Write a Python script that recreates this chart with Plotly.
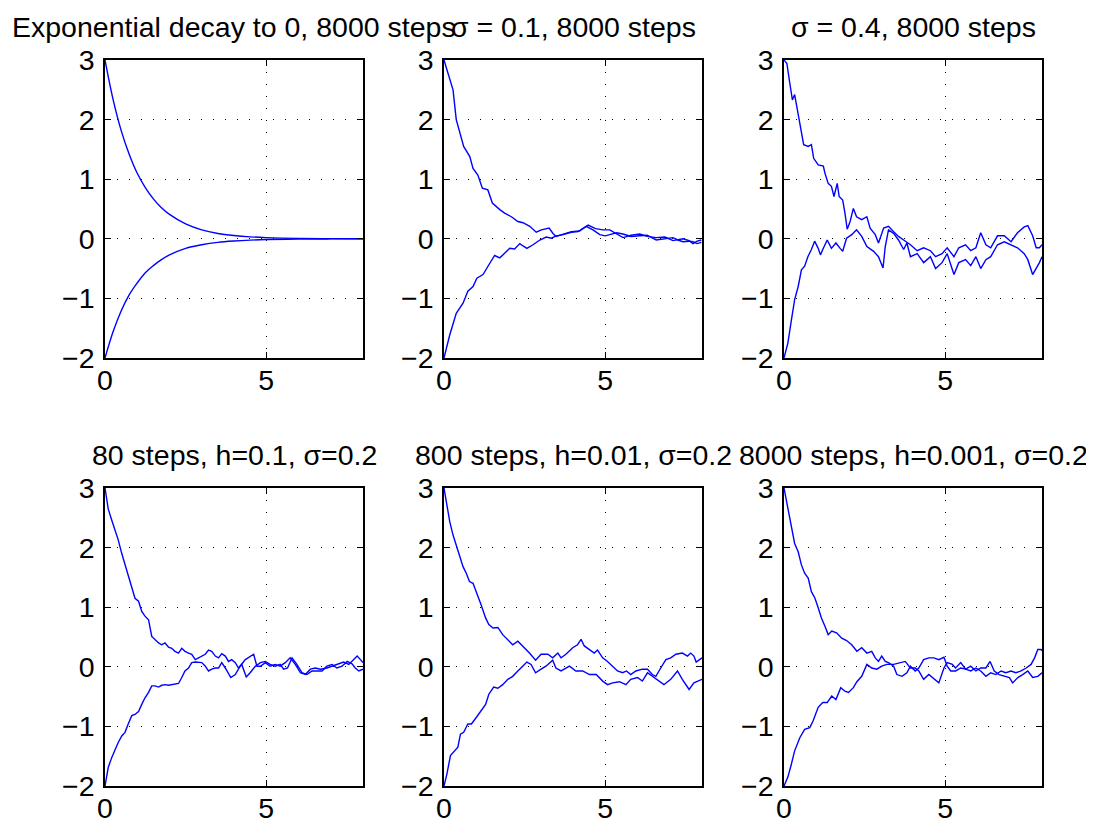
import plotly.graph_objects as go

# ---------------- data ----------------
# Panel 1: exponential decay to 0, 8000 steps
exp_t = [0, 0.25, 0.5, 0.75, 1, 1.25, 1.5, 1.75, 2, 2.5, 3, 3.5, 4, 4.5, 5, 6, 7, 8]
exp_upper = [3, 2.34, 1.82, 1.42, 1.10, 0.86, 0.67, 0.52, 0.41, 0.25, 0.15, 0.09, 0.055, 0.033, 0.02, 0.007, 0.003, 0.001]
exp_lower = [-2, -1.56, -1.21, -0.94, -0.74, -0.57, -0.45, -0.35, -0.27, -0.16, -0.10, -0.06, -0.037, -0.022, -0.013, -0.005, -0.002, -0.001]

# Panel 2: sigma = 0.1, 8000 steps
s01_up_t = [0, 0.28, 0.38, 0.61, 0.80, 0.90, 1.05, 1.19, 1.36, 1.50, 1.73, 1.88, 2.09, 2.29, 2.45, 2.66, 2.86,
            3.02, 3.26, 3.38, 3.48, 3.70, 3.95, 4.2, 4.47, 4.7, 4.93, 5.14, 5.35, 5.55, 5.8, 6.07, 6.3, 6.58,
            6.85, 7.1, 7.41, 7.6, 7.72, 7.85, 7.98]
s01_up = [3, 2.5, 2.0, 1.55, 1.38, 1.18, 1.07, 0.85, 0.82, 0.60, 0.49, 0.43, 0.37, 0.29, 0.27, 0.21, 0.11,
          0.15, 0.18, 0.09, 0.04, 0.08, 0.12, 0.13, 0.23, 0.17, 0.15, 0.15, 0.09, 0.02, 0.06, 0.08, 0.04, 0.02,
          0.03, -0.03, 0.0, -0.03, -0.08, -0.04, -0.02]
s01_lo_t = [0, 0.18, 0.38, 0.59, 0.74, 0.90, 1.02, 1.21, 1.42, 1.57, 1.73, 1.88, 2.04, 2.19, 2.35, 2.45, 2.57,
            2.76, 2.97, 3.17, 3.33, 3.48, 3.69, 3.95, 4.16, 4.41, 4.62, 4.83, 5.0, 5.14, 5.35, 5.55, 5.8, 6.07,
            6.3, 6.58, 6.85, 7.1, 7.25, 7.41, 7.6, 7.72, 7.85, 7.98]
s01_lo = [-2, -1.61, -1.25, -1.08, -0.88, -0.80, -0.66, -0.60, -0.41, -0.28, -0.32, -0.24, -0.16, -0.17,
          -0.08, -0.12, -0.16, -0.10, -0.02, 0.03, 0.01, 0.05, 0.07, 0.11, 0.12, 0.21, 0.15, 0.07, 0.05,
          0.07, 0.10, 0.08, 0.04, 0.05, 0.06, -0.02, 0.0, 0.02, -0.02, -0.05, -0.04, -0.05, -0.08, -0.06]

# Panel 3: sigma = 0.4, 8000 steps
s04_up_t = [0, 0.09, 0.18, 0.26, 0.33, 0.38, 0.47, 0.54, 0.61, 0.75, 0.85, 0.92, 1.06, 1.22, 1.27, 1.37,
            1.47, 1.55, 1.65, 1.71, 1.82, 1.89, 1.96, 2.05, 2.15, 2.25, 2.41, 2.57, 2.67, 2.83, 2.93, 3.09,
            3.24, 3.40, 3.55, 3.71, 3.92, 4.13, 4.33, 4.54, 4.70, 4.90, 5.06, 5.27, 5.42, 5.63, 5.79, 5.95,
            6.10, 6.26, 6.41, 6.62, 6.83, 7.04, 7.24, 7.45, 7.56, 7.71, 7.82, 7.92, 8.0]
s04_up = [3, 2.94, 2.61, 2.33, 2.42, 2.27, 1.99, 1.83, 1.58, 1.55, 1.58, 1.35, 1.24, 1.22, 1.10, 0.93,
          0.88, 0.71, 0.93, 0.71, 0.65, 0.43, 0.16, 0.29, 0.51, 0.37, 0.32, 0.37, 0.18, 0.07, -0.07, 0.18,
          0.21, 0.12, 0.04, -0.02, -0.10, -0.20, -0.15, -0.20, -0.30, -0.25, -0.15, -0.30, -0.15, -0.10,
          -0.20, -0.15, 0.10, -0.10, -0.15, 0.05, 0.05, -0.05, 0.10, 0.20, 0.22, 0.05, -0.15, -0.15, -0.10]
s04_lo_t = [0, 0.12, 0.23, 0.33, 0.44, 0.54, 0.64, 0.74, 0.85, 0.95, 1.06, 1.13, 1.22, 1.34, 1.47, 1.61,
            1.74, 1.82, 1.94, 2.10, 2.25, 2.41, 2.57, 2.78, 2.93, 3.07, 3.14, 3.24, 3.40, 3.55, 3.71, 3.81,
            3.92, 4.13, 4.33, 4.54, 4.70, 4.90, 5.06, 5.27, 5.42, 5.63, 5.79, 5.95, 6.10, 6.26, 6.41, 6.62,
            6.83, 7.04, 7.24, 7.45, 7.56, 7.71, 7.82, 7.92, 8.0]
s04_lo = [-2, -1.75, -1.36, -1.02, -0.80, -0.52, -0.46, -0.30, -0.18, -0.04, -0.16, -0.27, -0.16, -0.02,
          -0.16, -0.07, -0.16, -0.21, 0.01, 0.07, 0.15, 0.04, -0.13, -0.21, -0.30, -0.49, -0.13, 0.15, 0.09,
          -0.02, -0.18, -0.07, -0.30, -0.25, -0.40, -0.30, -0.50, -0.40, -0.25, -0.60, -0.40, -0.35, -0.45,
          -0.30, -0.50, -0.35, -0.30, -0.10, -0.05, -0.10, -0.15, -0.25, -0.35, -0.60, -0.50, -0.40, -0.30]

# Panel 4: 80 steps, h=0.1, sigma=0.2
h1_up_t = [0, 0.10, 0.21, 0.31, 0.41, 0.52, 0.62, 0.72, 0.83, 0.93, 1.04, 1.14, 1.24, 1.35, 1.45, 1.55,
           1.66, 1.76, 1.86, 1.97, 2.07, 2.17, 2.28, 2.38, 2.48, 2.59, 2.69, 2.80, 2.90, 3.00, 3.11, 3.21,
           3.31, 3.42, 3.52, 3.62, 3.73, 3.83, 3.93, 4.04, 4.14, 4.24, 4.38, 4.50, 4.66, 4.82, 4.97, 5.12,
           5.28, 5.43, 5.54, 5.66, 5.80, 5.95, 6.11, 6.26, 6.42, 6.57, 6.73, 6.88, 7.04, 7.19, 7.35, 7.51,
           7.66, 7.76, 7.87, 8.0]
h1_up = [3, 2.65, 2.46, 2.29, 2.13, 1.90, 1.71, 1.54, 1.32, 1.15, 1.10, 0.93, 0.85, 0.79, 0.51, 0.46,
         0.40, 0.37, 0.40, 0.33, 0.31, 0.26, 0.23, 0.31, 0.26, 0.23, 0.21, 0.12, 0.15, 0.18, 0.21, 0.28,
         0.26, 0.18, 0.15, 0.22, 0.18, 0.09, 0.12, 0.07, -0.02, 0.04, -0.17, -0.10, 0.01, 0.07, 0.09, 0.04,
         0.01, 0.04, -0.04, -0.02, 0.15, 0.04, -0.10, -0.13, -0.07, -0.07, -0.07, 0.01, 0.04, -0.02, 0.01,
         0.09, 0.05, -0.02, -0.07, -0.04]
h1_lo_t = [0, 0.10, 0.21, 0.31, 0.41, 0.52, 0.62, 0.72, 0.83, 0.93, 1.04, 1.14, 1.24, 1.35, 1.45, 1.55,
           1.66, 1.76, 1.86, 1.97, 2.07, 2.17, 2.28, 2.38, 2.48, 2.59, 2.69, 2.80, 2.90, 3.00, 3.11, 3.21,
           3.31, 3.42, 3.52, 3.62, 3.73, 3.83, 3.90, 4.04, 4.19, 4.35, 4.50, 4.61, 4.71, 4.82, 4.97, 5.12,
           5.28, 5.43, 5.59, 5.74, 5.90, 6.06, 6.21, 6.37, 6.52, 6.68, 6.88, 7.04, 7.19, 7.40, 7.56, 7.71,
           7.82, 7.92, 8.0]
h1_lo = [-2, -1.69, -1.52, -1.38, -1.27, -1.16, -1.10, -0.96, -0.82, -0.80, -0.75, -0.63, -0.52, -0.43,
         -0.32, -0.32, -0.34, -0.31, -0.30, -0.31, -0.30, -0.30, -0.28, -0.18, -0.07, -0.02, 0.07, 0.08,
         0.07, 0.07, 0.01, -0.07, -0.04, -0.02, -0.02, 0.07, -0.02, -0.13, -0.18, -0.13, 0.01, 0.12, 0.18,
         0.21, 0.01, 0.01, 0.07, 0.01, 0.04, 0.01, 0.07, 0.15, 0.04, -0.10, -0.13, -0.04, -0.02, -0.04,
         -0.02, 0.01, 0.04, 0.08, 0.04, 0.12, 0.18, 0.12, 0.07]

# Panel 5: 800 steps, h=0.01, sigma=0.2
h01_up_t = [0, 0.09, 0.18, 0.28, 0.38, 0.48, 0.59, 0.69, 0.79, 0.90, 1.02, 1.15, 1.29, 1.39, 1.52, 1.67,
            1.82, 1.98, 2.13, 2.29, 2.44, 2.65, 2.84, 3.01, 3.22, 3.37, 3.53, 3.63, 3.78, 3.99, 4.14, 4.25,
            4.35, 4.51, 4.66, 4.76, 4.92, 5.07, 5.23, 5.38, 5.54, 5.66, 5.79, 5.95, 6.15, 6.31, 6.46, 6.57,
            6.72, 6.88, 7.03, 7.19, 7.39, 7.55, 7.65, 7.75, 7.82, 7.91, 8.0]
h01_up = [3, 2.71, 2.43, 2.21, 2.04, 1.88, 1.68, 1.57, 1.43, 1.40, 1.24, 1.04, 0.82, 0.71, 0.65, 0.66,
          0.54, 0.46, 0.37, 0.43, 0.35, 0.23, 0.11, 0.21, 0.21, 0.15, 0.23, 0.15, 0.21, 0.32, 0.37, 0.46,
          0.35, 0.29, 0.23, 0.28, 0.15, 0.09, 0.01, -0.07, -0.10, -0.07, -0.13, -0.07, -0.04, -0.04, -0.13,
          -0.16, -0.02, 0.12, 0.15, 0.21, 0.23, 0.18, 0.23, 0.18, 0.08, 0.12, 0.15]
h01_lo_t = [0, 0.09, 0.20, 0.33, 0.43, 0.51, 0.61, 0.74, 0.85, 1.00, 1.15, 1.29, 1.39, 1.54, 1.67, 1.82,
            1.98, 2.13, 2.29, 2.44, 2.57, 2.70, 2.84, 3.01, 3.16, 3.37, 3.47, 3.63, 3.89, 4.09, 4.30, 4.51,
            4.72, 4.92, 5.07, 5.23, 5.44, 5.64, 5.79, 6.00, 6.15, 6.31, 6.52, 6.67, 6.82, 7.03, 7.24, 7.39,
            7.60, 7.75, 8.0]
h01_lo = [-2, -1.80, -1.49, -1.41, -1.35, -1.13, -1.10, -0.96, -0.96, -0.85, -0.74, -0.63, -0.46, -0.34,
          -0.36, -0.30, -0.21, -0.16, -0.07, 0.01, 0.08, 0.04, -0.10, -0.04, 0.01, 0.11, -0.02, -0.07, 0.01,
          -0.07, -0.07, -0.13, -0.13, -0.24, -0.30, -0.27, -0.25, -0.30, -0.21, -0.18, -0.24, -0.10, -0.18,
          -0.24, -0.30, -0.21, -0.07, -0.21, -0.38, -0.27, -0.21]

# Panel 6: 8000 steps, h=0.001, sigma=0.2
h001_up_t = [0, 0.12, 0.23, 0.33, 0.44, 0.54, 0.64, 0.75, 0.85, 0.96, 1.06, 1.16, 1.27, 1.37, 1.48, 1.63,
             1.79, 1.94, 2.10, 2.26, 2.41, 2.57, 2.72, 2.83, 2.93, 3.03, 3.14, 3.24, 3.40, 3.50, 3.66, 3.81,
             3.92, 4.07, 4.18, 4.33, 4.49, 4.65, 4.80, 4.96, 5.06, 5.17, 5.32, 5.48, 5.63, 5.79, 5.95, 6.10,
             6.26, 6.41, 6.57, 6.73, 6.88, 7.04, 7.19, 7.35, 7.51, 7.66, 7.77, 7.87, 7.97, 8.0]
h001_up = [3, 2.66, 2.38, 2.07, 1.93, 1.71, 1.57, 1.49, 1.26, 1.15, 0.99, 0.82, 0.68, 0.54, 0.60, 0.57,
           0.48, 0.44, 0.37, 0.26, 0.32, 0.23, 0.26, 0.15, 0.09, 0.18, 0.09, 0.07, 0.01, -0.13, -0.16,
           -0.10, 0.01, -0.07, -0.02, 0.12, 0.15, 0.15, 0.12, 0.16, 0.01, -0.07, -0.07, -0.02, -0.04, -0.07,
           -0.02, -0.07, -0.16, -0.10, -0.13, -0.07, -0.10, -0.07, -0.10, -0.07, -0.02, 0.04, 0.15, 0.29,
           0.29, 0.27]
h001_lo_t = [0, 0.12, 0.23, 0.33, 0.49, 0.64, 0.80, 0.90, 1.06, 1.20, 1.34, 1.48, 1.61, 1.76, 1.89, 2.00,
             2.15, 2.26, 2.41, 2.57, 2.72, 2.88, 3.03, 3.19, 3.40, 3.60, 3.76, 3.92, 4.07, 4.18, 4.33, 4.49,
             4.65, 4.80, 4.96, 5.06, 5.22, 5.32, 5.48, 5.63, 5.79, 5.95, 6.10, 6.26, 6.39, 6.52, 6.67, 6.83,
             6.99, 7.09, 7.25, 7.40, 7.56, 7.71, 7.87, 8.0]
h001_lo = [-2, -1.85, -1.63, -1.41, -1.19, -1.05, -1.02, -0.91, -0.68, -0.60, -0.60, -0.49, -0.55, -0.35,
           -0.41, -0.43, -0.35, -0.25, -0.16, 0.04, -0.02, -0.04, 0.01, 0.04, 0.04, 0.07, 0.09, -0.02,
           -0.02, -0.07, -0.21, -0.13, -0.21, -0.27, -0.02, 0.07, 0.04, -0.02, 0.07, -0.04, 0.01, -0.07,
           -0.02, -0.02, 0.09, -0.07, -0.13, -0.16, -0.18, -0.27, -0.18, -0.13, -0.07, -0.18, -0.16, -0.10]

titles = ["Exponential decay to 0, 8000 steps", "σ = 0.1, 8000 steps", "σ = 0.4, 8000 steps",
          "80 steps, h=0.1, σ=0.2", "800 steps, h=0.01, σ=0.2", "8000 steps, h=0.001, σ=0.2"]
x_ticks = [0, 5]
y_ticks = [-2, -1, 0, 1, 2, 3]

panels = [
    [(exp_t, exp_upper, "spline"), (exp_t, exp_lower, "spline")],
    [(s01_up_t, s01_up, "linear"), (s01_lo_t, s01_lo, "linear")],
    [(s04_up_t, s04_up, "linear"), (s04_lo_t, s04_lo, "linear")],
    [(h1_up_t, h1_up, "linear"), (h1_lo_t, h1_lo, "linear")],
    [(h01_up_t, h01_up, "linear"), (h01_lo_t, h01_lo, "linear")],
    [(h001_up_t, h001_up, "linear"), (h001_lo_t, h001_lo, "linear")],
]

# ---------------- layout ----------------
W, H = 1094, 825
OFF = 8  # default page body margin in the written html
col_px = [(105, 363), (444, 702), (784, 1042)]
row_px = [(60, 358), (488, 786)]
FONT = "Liberation Sans, Arial, Helvetica, sans-serif"
FS = 28.5

fig = go.Figure()
layout = dict(
    template="none",
    width=W, height=H, margin=dict(l=0, r=0, t=0, b=0, pad=0, autoexpand=False),
    paper_bgcolor="white", plot_bgcolor="white", showlegend=False,
    font=dict(family=FONT, size=FS, color="black"),
)
annotations = []
for i, series in enumerate(panels):
    r, c = divmod(i, 3)
    x0, x1 = (p - OFF for p in col_px[c])
    y0, y1 = (p - OFF for p in row_px[r])
    xa = "xaxis" if i == 0 else f"xaxis{i+1}"
    ya = "yaxis" if i == 0 else f"yaxis{i+1}"
    xref = "x" if i == 0 else f"x{i+1}"
    yref = "y" if i == 0 else f"y{i+1}"
    for (tx, vy, shape) in series:
        fig.add_trace(go.Scatter(x=tx, y=vy, mode="lines", xaxis=xref, yaxis=yref,
                                 line=dict(color="#0000ff", width=1.4, shape=shape),
                                 hoverinfo="skip"))
    common = dict(showline=True, linecolor="black", linewidth=1.5, mirror="ticks",
                  ticks="inside", ticklen=6, tickwidth=1, tickcolor="black",
                  showgrid=True, gridcolor="black", gridwidth=1, griddash="1px,11px",
                  zeroline=False, automargin=False,
                  tickfont=dict(family=FONT, size=FS, color="black"),
                  fixedrange=True)
    layout[xa] = dict(domain=[x0 / W, x1 / W], range=[0, 8], tickvals=x_ticks,
                      anchor=yref, ticklabelstandoff=-4, **common)
    layout[ya] = dict(domain=[1 - y1 / H, 1 - y0 / H], range=[-2, 3], tickvals=y_ticks,
                      anchor=xref, ticklabelstandoff=3, **common)
    annotations.append(dict(text=titles[i], xref="paper", yref="paper",
                            x=(x0 + x1) / 2 / W, y=1 - (y0 - 33) / H,
                            xanchor="center", yanchor="middle", showarrow=False,
                            font=dict(family=FONT, size=FS, color="black")))
layout["annotations"] = annotations
fig.update_layout(**layout)
fig.write_html("out.html")
